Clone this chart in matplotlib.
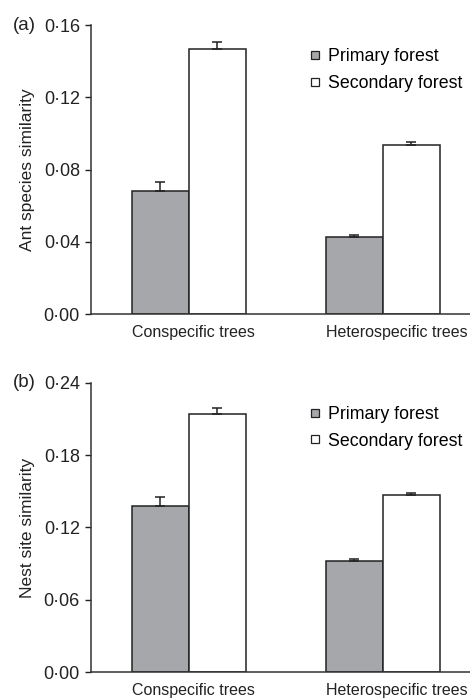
import numpy as np
import matplotlib
matplotlib.use("Agg")
import matplotlib.pyplot as plt
from matplotlib.lines import Line2D
from matplotlib.ticker import FuncFormatter

plt.rcParams['font.family'] = ['Liberation Sans', 'DejaVu Sans']

CATEGORIES = ["Conspecific trees", "Heterospecific trees"]
SERIES = ["Primary forest", "Secondary forest"]
COLORS = ["#a6a7aa", "#ffffff"]
EDGE = "#222222"

# panel (a) ant species similarity
ant_primary = [0.068, 0.0425]
ant_primary_err = [0.005, 0.001]
ant_secondary = [0.1466, 0.0937]
ant_secondary_err = [0.004, 0.0015]
ant_ticks = [0.00, 0.04, 0.08, 0.12, 0.16]

# panel (b) nest site similarity
nest_primary = [0.138, 0.0925]
nest_primary_err = [0.007, 0.001]
nest_secondary = [0.2143, 0.1467]
nest_secondary_err = [0.005, 0.002]
nest_ticks = [0.00, 0.06, 0.12, 0.18, 0.24]

W = 0.294
fmt = FuncFormatter(lambda v, p: f"{v:.2f}".replace('.', '\u00b7'))

fig = plt.figure(figsize=(4.7, 7), dpi=100)
ax_a = fig.add_axes([0.1936, 0.5514, 0.806, 0.4126])
ax_b = fig.add_axes([0.1936, 0.0396, 0.806, 0.4137])


def draw(ax, prim, prim_err, sec, sec_err, ticks, ylabel, tag, leg_y):
    x = np.arange(len(CATEGORIES))
    for vals, errs, off, col in [(prim, prim_err, -W / 2, COLORS[0]),
                                 (sec, sec_err, W / 2, COLORS[1])]:
        ax.bar(x + off, vals, W, color=col, edgecolor=EDGE, linewidth=1.1, zorder=2)
        ax.errorbar(x + off, vals, yerr=[np.zeros(len(vals)), errs], fmt='none',
                    ecolor=EDGE, elinewidth=1.1, capsize=3.5, capthick=1.1, zorder=3)
    ax.set_xlim(-0.505, 1.448)
    ax.set_ylim(ticks[0], ticks[-1])
    ax.set_yticks(ticks)
    ax.yaxis.set_major_formatter(fmt)
    ax.set_xticks(x - W)
    ax.set_xticklabels(CATEGORIES, ha='left', fontsize=11.5, color='#222222')
    ax.tick_params(axis='x', length=0, pad=8)
    ax.tick_params(axis='y', direction='out', length=4, width=1, labelsize=13,
                   colors='#222222', pad=4)
    for s in ['top', 'right']:
        ax.spines[s].set_visible(False)
    for s in ['left', 'bottom']:
        ax.spines[s].set_color('#333333')
        ax.spines[s].set_linewidth(1.1)
    ax.set_ylabel(ylabel, fontsize=12.5, color='#222222', labelpad=6)
    ax.text(-0.205, 1.0, tag, transform=ax.transAxes, fontsize=13.5,
            va='center', ha='left', color='#222222')
    handles = [Line2D([], [], ls='none', marker='s', markersize=6, markerfacecolor=c,
                      markeredgecolor=EDGE, markeredgewidth=0.9) for c in COLORS]
    ax.legend(handles, SERIES, loc='upper left', bbox_to_anchor=(0.555, leg_y),
              frameon=False, fontsize=12.8, handlelength=0.7, handletextpad=0.4,
              labelspacing=0.55, borderaxespad=0)


draw(ax_a, ant_primary, ant_primary_err, ant_secondary, ant_secondary_err,
     ant_ticks, "Ant species similarity", "(a)", 0.945)
draw(ax_b, nest_primary, nest_primary_err, nest_secondary, nest_secondary_err,
     nest_ticks, "Nest site similarity", "(b)", 0.945)

fig.savefig("out.png", dpi=100)
